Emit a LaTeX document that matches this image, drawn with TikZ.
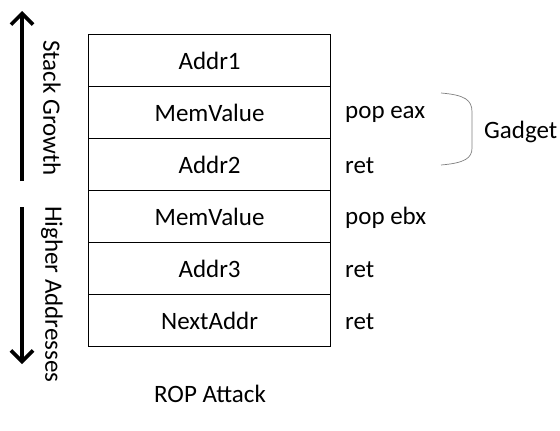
\documentclass[tikz,border=0pt]{standalone}
\usepackage{fontspec}
\setmainfont{Carlito}
\usetikzlibrary{arrows.meta}
\begin{document}
\begin{tikzpicture}[x=1pt,y=-1pt,
  txt/.style={font=\fontsize{25}{28}\selectfont},
  cell/.style={txt, draw=black, line width=1.2pt, minimum width=242pt, minimum height=52pt, anchor=north west, inner sep=0pt},
  lbl/.style={txt, anchor=west, inner sep=0pt},
  side/.style={txt, rotate=-90, inner sep=0pt},
  bigarrow/.style={line width=3.6pt, -{Straight Barb[length=11pt,width=22pt,line width=3.6pt]}}]
\useasboundingbox (0,0) rectangle (560,431);
\node[cell] (c1) at (88,34) {Addr1};
\node[cell] (c2) at (88,86) {MemValue};
\node[cell] (c3) at (88,138) {Addr2};
\node[cell] (c4) at (88,190) {MemValue};
\node[cell] (c5) at (88,242) {Addr3};
\node[cell] (c6) at (88,294) {NextAddr};
\node[lbl] (r2) at (345,114) {pop eax};
\node[lbl] (r3) at (345,166) {ret};
\node[lbl] (r4) at (345,218) {pop ebx};
\node[lbl] (r5) at (345,270) {ret};
\node[lbl] (r6) at (345,322) {ret};
\draw[gray, line width=0.7pt] (441,93) .. controls (465,95) and (472,100) .. (472,112) -- (472,148) .. controls (472,158) and (465,163) .. (441,165);
\node[lbl] (g) at (484,132) {Gadget};
\coordinate (u1) at (22,181);
\coordinate (u2) at (22,11);
\coordinate (d1) at (22,207);
\coordinate (d2) at (22,364);
\draw[bigarrow] (u1) -- (u2);
\draw[bigarrow] (d1) -- (d2);
\node[side, anchor=west] (sg) at (52,40) {Stack Growth};
\node[side, anchor=west] (ha) at (52,206) {Higher Addresses};
\node[txt] (t) at (210,394) {ROP Attack};
\end{tikzpicture}
\end{document}
